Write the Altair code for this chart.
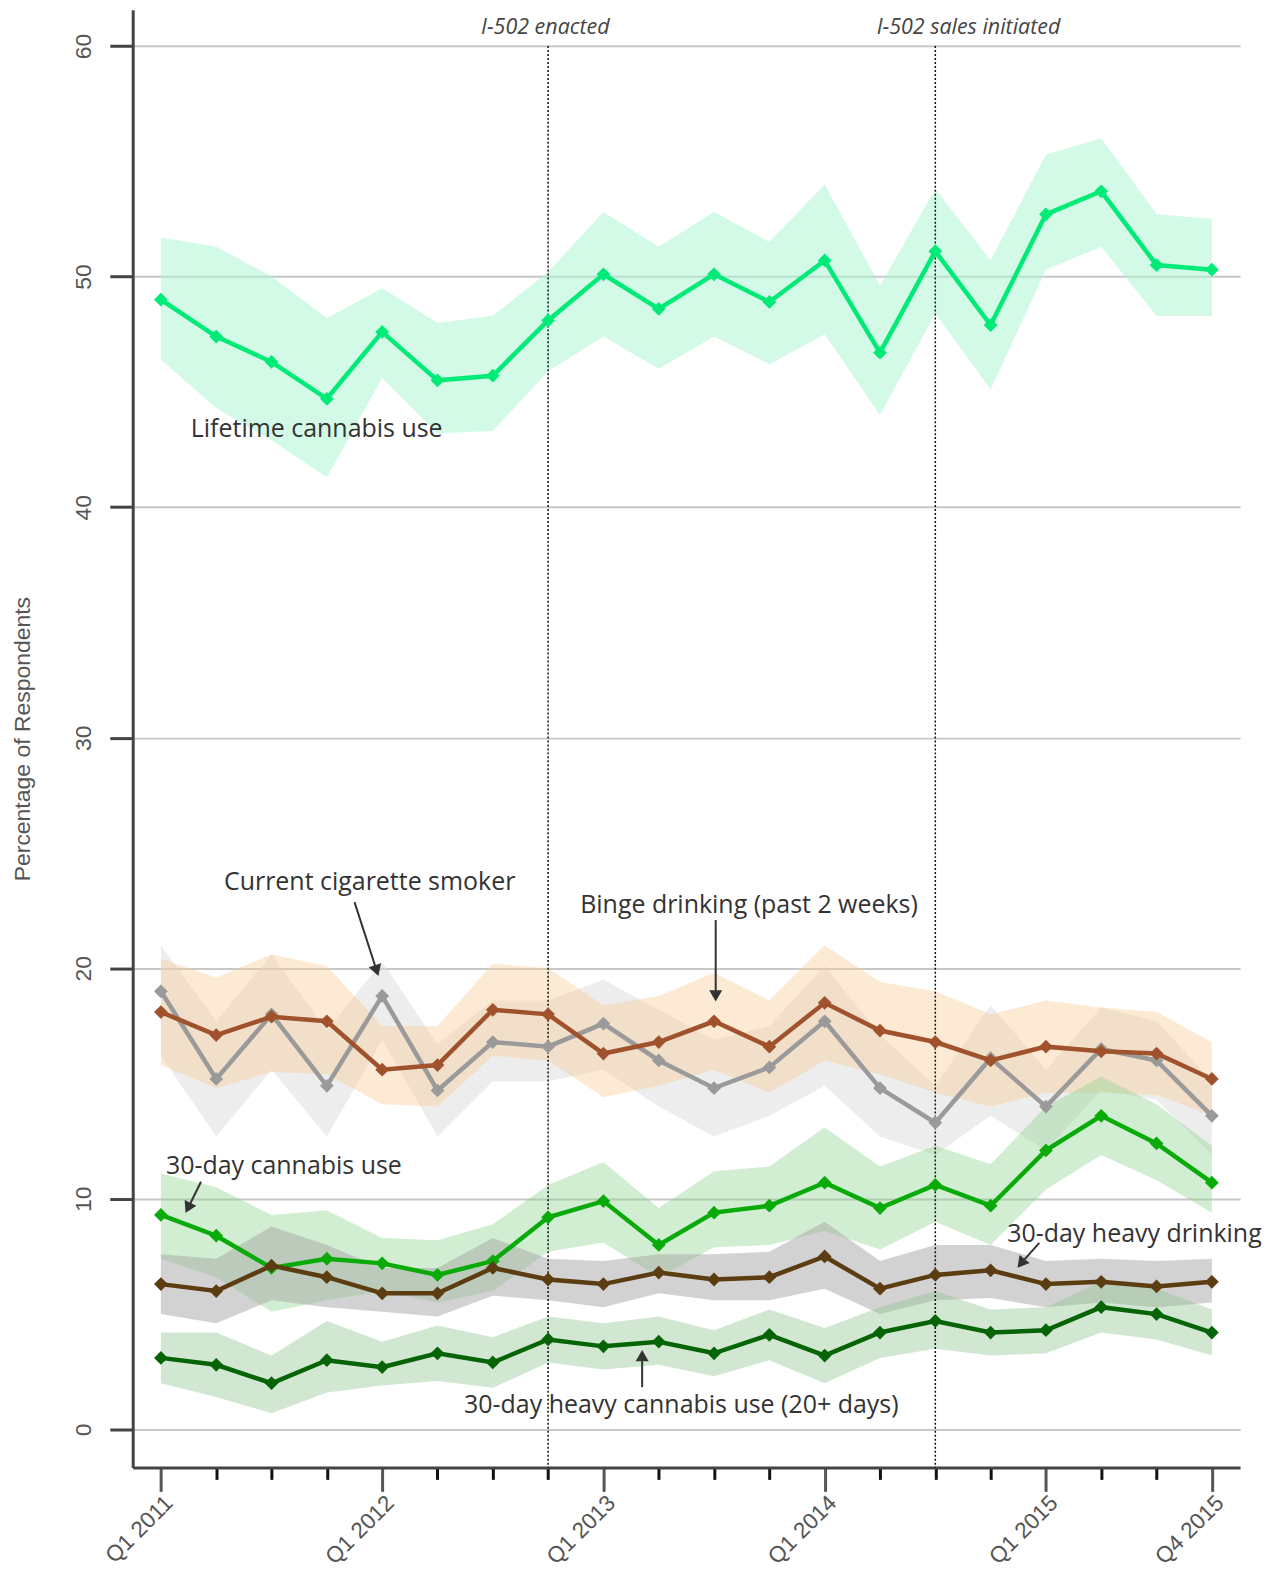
import altair as alt
import pandas as pd

# ---------------- data ----------------
quarters = ["Q1 2011", "Q2 2011", "Q3 2011", "Q4 2011",
            "Q1 2012", "Q2 2012", "Q3 2012", "Q4 2012",
            "Q1 2013", "Q2 2013", "Q3 2013", "Q4 2013",
            "Q1 2014", "Q2 2014", "Q3 2014", "Q4 2014",
            "Q1 2015", "Q2 2015", "Q3 2015", "Q4 2015"]
tick_labels = ["Q1 2011", "", "", "", "Q1 2012", "", "", "", "Q1 2013", "", "", "",
               "Q1 2014", "", "", "", "Q1 2015", "", "", "Q4 2015"]

lifetime = [49.0, 47.4, 46.3, 44.7, 47.6, 45.5, 45.7, 48.1, 50.1, 48.6,
            50.1, 48.9, 50.7, 46.7, 51.1, 47.9, 52.7, 53.7, 50.5, 50.3]
lifetime_hi = [51.7, 51.3, 50.0, 48.2, 49.5, 48.0, 48.3, 50.2, 52.8, 51.3,
               52.8, 51.5, 54.0, 49.6, 53.8, 50.7, 55.3, 56.0, 52.7, 52.5]
lifetime_lo = [46.4, 44.3, 42.9, 41.3, 45.6, 43.2, 43.3, 45.9, 47.4, 46.0,
               47.4, 46.2, 47.5, 44.0, 48.4, 45.1, 50.3, 51.3, 48.3, 48.3]

smoker = [19.0, 15.2, 18.0, 14.9, 18.8, 14.7, 16.8, 16.6, 17.6, 16.0,
          14.8, 15.7, 17.7, 14.8, 13.3, 16.1, 14.0, 16.5, 16.0, 13.6]
smoker_hi = [21.0, 17.7, 20.6, 17.3, 20.3, 16.7, 18.6, 18.6, 19.5, 18.2,
             16.9, 17.5, 20.1, 17.1, 14.9, 18.4, 15.6, 18.3, 17.7, 15.1]
smoker_lo = [16.2, 12.7, 15.6, 12.7, 16.9, 12.7, 15.1, 15.1, 15.6, 14.0,
             12.7, 13.6, 14.9, 12.7, 11.9, 13.6, 12.1, 14.7, 14.3, 11.9]

binge = [18.1, 17.1, 17.9, 17.7, 15.6, 15.8, 18.2, 18.0, 16.3, 16.8,
         17.7, 16.6, 18.5, 17.3, 16.8, 16.0, 16.6, 16.4, 16.3, 15.2]
binge_hi = [20.4, 19.6, 20.6, 20.1, 17.5, 17.5, 20.2, 20.0, 18.4, 18.8,
            19.8, 18.6, 21.0, 19.4, 19.0, 18.0, 18.6, 18.3, 18.1, 16.8]
binge_lo = [15.8, 14.8, 15.5, 15.4, 14.1, 14.0, 16.2, 16.0, 14.4, 14.9,
            15.6, 14.6, 16.0, 15.4, 14.6, 14.0, 14.6, 14.6, 14.5, 13.6]

cannabis30 = [9.3, 8.4, 7.0, 7.4, 7.2, 6.7, 7.3, 9.2, 9.9, 8.0,
              9.4, 9.7, 10.7, 9.6, 10.6, 9.7, 12.1, 13.6, 12.4, 10.7]
cannabis30_hi = [11.1, 10.5, 9.3, 9.5, 8.3, 8.2, 8.9, 10.6, 11.6, 9.6,
                 11.2, 11.4, 13.1, 11.4, 12.3, 11.5, 14.0, 15.3, 14.1, 12.3]
cannabis30_lo = [7.4, 6.6, 5.1, 5.6, 6.0, 5.5, 6.0, 7.7, 8.1, 6.6,
                 7.9, 8.0, 8.6, 7.8, 9.0, 8.0, 10.4, 11.9, 10.8, 9.4]

heavydrink = [6.3, 6.0, 7.1, 6.6, 5.9, 5.9, 7.0, 6.5, 6.3, 6.8,
              6.5, 6.6, 7.5, 6.1, 6.7, 6.9, 6.3, 6.4, 6.2, 6.4]
heavydrink_hi = [7.6, 7.4, 8.8, 8.0, 7.0, 7.0, 8.3, 7.4, 7.3, 7.6,
                 7.6, 7.7, 9.0, 7.3, 8.0, 8.0, 7.3, 7.4, 7.3, 7.4]
heavydrink_lo = [5.0, 4.6, 5.6, 5.3, 5.1, 4.9, 5.8, 5.6, 5.3, 5.9,
                 5.6, 5.6, 6.1, 5.0, 5.6, 5.7, 5.3, 5.5, 5.3, 5.5]

heavycann = [3.1, 2.8, 2.0, 3.0, 2.7, 3.3, 2.9, 3.9, 3.6, 3.8,
             3.3, 4.1, 3.2, 4.2, 4.7, 4.2, 4.3, 5.3, 5.0, 4.2]
heavycann_hi = [4.2, 4.2, 3.2, 4.7, 3.8, 4.5, 4.0, 4.9, 4.6, 4.9,
                4.3, 5.2, 4.4, 5.3, 6.0, 5.2, 5.3, 6.4, 6.1, 5.2]
heavycann_lo = [2.0, 1.4, 0.7, 1.6, 1.9, 2.1, 1.8, 2.9, 2.6, 2.8,
                2.3, 3.0, 2.0, 3.1, 3.5, 3.2, 3.3, 4.2, 3.9, 3.2]

# (name, values, lo, hi, line colour, band colour, band opacity)
series = [
    ("Lifetime cannabis use", lifetime, lifetime_lo, lifetime_hi, "#00EA78", "#A6F6D0", 0.5),
    ("Current cigarette smoker", smoker, smoker_lo, smoker_hi, "#9A9A9A", "#D8D8D8", 0.45),
    ("Binge drinking", binge, binge_lo, binge_hi, "#A0522D", "#F9C990", 0.38),
    ("30-day cannabis use", cannabis30, cannabis30_lo, cannabis30_hi, "#0AAA0A", "#8FD48F", 0.4),
    ("30-day heavy drinking", heavydrink, heavydrink_lo, heavydrink_hi, "#5C3D12", "#A6A6A6", 0.5),
    ("30-day heavy cannabis use", heavycann, heavycann_lo, heavycann_hi, "#066406", "#8CC48C", 0.4),
]

events_x = [7, 14]
events_label_x = [6.95, 14.6]
events_text = ["I-502 enacted", "I-502 sales initiated"]

ann_text = ["Lifetime cannabis use", "Current cigarette smoker", "Binge drinking (past 2 weeks)",
            "30-day cannabis use", "30-day heavy drinking", "30-day heavy cannabis use (20+ days)"]
ann_x = [0.54, 1.14, 7.58, 0.09, 15.3, 5.48]
ann_y = [43.4, 23.74, 22.74, 11.43, 8.48, 1.04]

# arrows: start (x1,y1) -> tip (x2,y2), head angle (deg)
arr_x1 = [3.50, 10.03, 0.725, 15.88, 8.70]
arr_y1 = [22.87, 22.09, 10.74, 8.09, 1.83]
arr_x2 = [3.90, 10.03, 0.49, 15.55, 8.70]
arr_y2 = [19.9, 18.8, 9.6, 7.2, 3.2]
arr_ang = [162, 180, 206, 219, 0]

# ---------------- chart ----------------
W, H = 1110, 1461
xscale = alt.Scale(domain=[-0.51, 19.51], nice=False, zero=False)
yscale = alt.Scale(domain=[-1.65, 61.57], nice=False, zero=False)

label_arr = "[" + ",".join("'" + t + "'" for t in tick_labels) + "]"
major_test = "datum.value % 4 === 0 || datum.value === 19"

xaxis = alt.Axis(
    values=list(range(len(quarters))), grid=False, title=None,
    labelExpr=label_arr + "[datum.value]",
    labelAngle=-45, labelAlign="right", labelBaseline="top",
    labelFontSize=22.5, labelColor="#555555", labelPadding=0, labelFont="Liberation Sans",
    labelOverlap=False, labelFlush=False,
    tickSize={"condition": {"test": major_test, "value": 24}, "value": 12},
    tickColor={"condition": {"test": major_test, "value": "#555555"}, "value": "#111111"},
    tickWidth=3, domainColor="#444444", domainWidth=3,
)
yaxis = alt.Axis(
    values=[0, 10, 20, 30, 40, 50, 60], grid=True, gridColor="#C8C8C8", gridWidth=2,
    title="Percentage of Respondents", titleFont="Liberation Sans", titleFontSize=23,
    titleFontWeight="normal", titleColor="#555555", titlePadding=38,
    labelAngle=-90, labelAlign="center", labelFontSize=23, labelColor="#555555",
    labelFont="Liberation Sans", labelPadding=14,
    tickSize=23, tickWidth=3, tickColor="#444444", domainColor="#444444", domainWidth=3,
)


def X(field):
    return alt.X(field, type="quantitative", scale=xscale, axis=xaxis)


def Y(field):
    return alt.Y(field, type="quantitative", scale=yscale, axis=yaxis)


bands, lines = [], []
for name, vals, lo, hi, lc, bc, op in series:
    d = pd.DataFrame({"idx": list(range(len(quarters))), "quarter": quarters,
                      "v": vals, "lo": lo, "hi": hi})
    bands.append(alt.Chart(d).mark_area(color=bc, opacity=op).encode(
        x=X("idx"), y=Y("lo"), y2="hi"))
    lines.append(alt.Chart(d).mark_line(color=lc, strokeWidth=4.5).encode(
        x=X("idx"), y=Y("v")))
    lines.append(alt.Chart(d).mark_point(shape="diamond", filled=True, color=lc,
                                         size=190, opacity=1).encode(
        x=X("idx"), y=Y("v")))

ev = pd.DataFrame({"x": events_x, "lx": events_label_x, "t": events_text,
                   "top": [60, 60], "bot": [-1.65, -1.65], "ly": [60.78, 60.78]})
ev_rules = alt.Chart(ev).mark_rule(color="#111111", strokeWidth=1.5, strokeDash=[2, 2]).encode(
    x=X("x"), y=Y("top"), y2="bot")
ev_text = alt.Chart(ev).mark_text(font="Open Sans", fontStyle="italic", fontSize=21.5,
                                  color="#444444", align="center", baseline="middle").encode(
    x=X("lx"), y=Y("ly"), text="t")

ann = pd.DataFrame({"x": ann_x, "y": ann_y, "t": ann_text})
ann_layer = alt.Chart(ann).mark_text(font="Open Sans", fontSize=25, color="#333333",
                                     align="left", baseline="middle").encode(
    x=X("x"), y=Y("y"), text="t")

arr = pd.DataFrame({"x1": arr_x1, "y1": arr_y1, "x2": arr_x2, "y2": arr_y2, "a": arr_ang})
arr_lines = alt.Chart(arr).mark_rule(color="#333333", strokeWidth=2).encode(
    x=X("x1"), y=Y("y1"), x2="x2", y2="y2")
arr_heads = alt.Chart(arr).mark_point(shape="triangle-up", filled=True, color="#333333",
                                      size=170, opacity=1).encode(
    x=X("x2"), y=Y("y2"), angle=alt.Angle("a:Q", scale=None))

chart = alt.layer(*bands, ev_rules, *lines, ev_text, ann_layer, arr_lines, arr_heads).properties(
    width=W, height=H,
    autosize=alt.AutoSizeParams(type="none"),
    padding={"left": 125, "top": 0, "right": 35, "bottom": 106},
).configure(font="Open Sans").configure_view(stroke=None, strokeWidth=0)

chart.save("out.html", embed_options={"renderer": "svg", "actions": False})
